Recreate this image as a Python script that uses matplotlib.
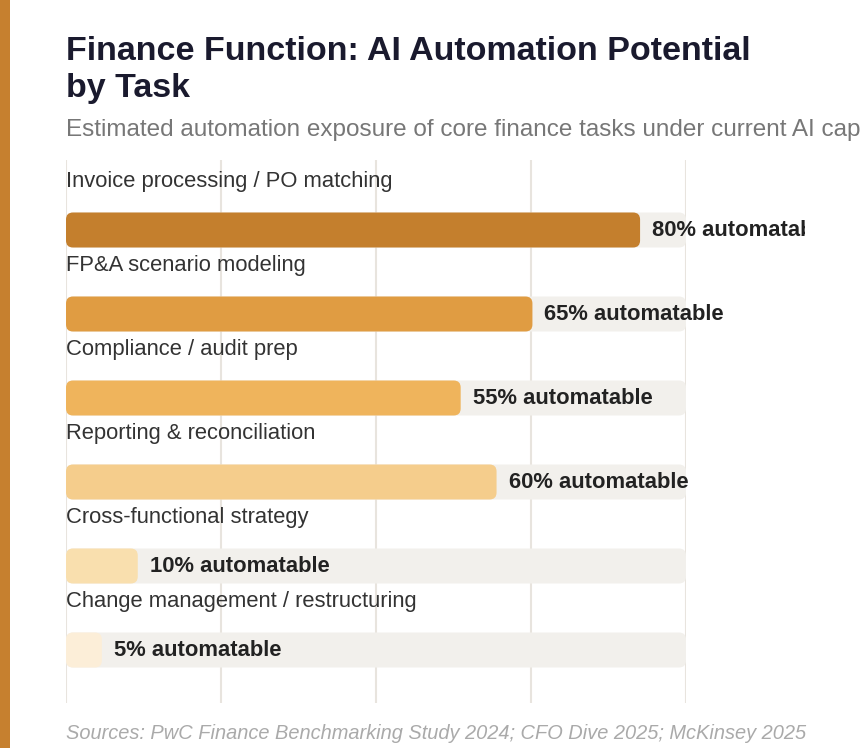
import numpy as np
import matplotlib
matplotlib.use("Agg")
import matplotlib.pyplot as plt
from matplotlib.patches import FancyBboxPatch, Rectangle
from matplotlib.transforms import Bbox, TransformedBbox

# ---- data ----
tasks = [
    "Invoice processing / PO matching",
    "FP&A scenario modeling",
    "Compliance / audit prep",
    "Reporting & reconciliation",
    "Cross-functional strategy",
    "Change management / restructuring",
]
values = [80, 65, 55, 60, 10, 5]
bar_colors = ["#C47F2D", "#E09C42", "#EFB45C", "#F5CD8C", "#F9DFAE", "#FCEED8"]
title_lines = ["Finance Function: AI Automation Potential", "by Task"]
subtitle = "Estimated automation exposure of core finance tasks under current AI capabilities"
source = "Sources: PwC Finance Benchmarking Study 2024; CFO Dive 2025; McKinsey 2025"
value_suffix = "% automatable"

W, H = 862, 748
DPI = 100
plt.rcParams['font.family'] = ['Liberation Sans', 'DejaVu Sans']
fig = plt.figure(figsize=(W / DPI, H / DPI), dpi=DPI)
fig.patch.set_facecolor("white")

def px(n):  # pixels -> points
    return n * 72 / DPI

# left accent stripe
fig.add_artist(Rectangle((0, 0), 10 / W, 1, transform=fig.transFigure,
                         facecolor="#C6802F", edgecolor="none"))

# titles
fig.text(66 / W, 1 - 60 / H, title_lines[0], fontsize=px(34), fontweight="bold",
         color="#1A1A2E", va="baseline", ha="left")
fig.text(66 / W, 1 - 97 / H, title_lines[1], fontsize=px(34), fontweight="bold",
         color="#1A1A2E", va="baseline", ha="left")
fig.text(66 / W, 1 - 136 / H, subtitle, fontsize=px(24.2), color="#777777",
         va="baseline", ha="left")
fig.text(66 / W, 1 - 739 / H, source, fontsize=px(20), color="#AAAAAA",
         style="italic", va="baseline", ha="left")

# axes
ax_left, ax_right, ax_top, ax_bottom = 66, 686, 160, 703
ax = fig.add_axes([ax_left / W, 1 - ax_bottom / H, (ax_right - ax_left) / W,
                   (ax_bottom - ax_top) / H])
ax.set_facecolor("none")
for s in ax.spines.values():
    s.set_visible(False)
ax.set_xticks([]); ax.set_yticks([])

xmax = max(values) * 1.08
row = 84.0
ax.set_xlim(0, xmax)
ax.set_ylim(len(tasks) - 1 + (ax_bottom - 650) / row, -70 / row)

for gx in np.linspace(0, xmax, 5):
    ax.axvline(gx, color="#E8E4DE", lw=1.5, zorder=0)

px_per_x = (ax_right - ax_left) / xmax
bar_h = 35 / row
r_px = 7
asp = (1 / row) / (1 / px_per_x)

clip = TransformedBbox(Bbox([[0, 0], [805 / W, 1]]), fig.transFigure)

for i, (t, v, c) in enumerate(zip(tasks, values, bar_colors)):
    track = FancyBboxPatch((0, i - bar_h / 2), xmax, bar_h,
                           boxstyle=f"round,pad=0,rounding_size={r_px / px_per_x}",
                           mutation_aspect=asp, facecolor="#F2F0EC",
                           edgecolor="none", zorder=1)
    ax.add_patch(track)
    bar = FancyBboxPatch((0, i - bar_h / 2), v, bar_h,
                         boxstyle=f"round,pad=0,rounding_size={r_px / px_per_x}",
                         mutation_aspect=asp, facecolor=c, edgecolor="none", zorder=2)
    ax.add_patch(bar)
    ax.text(0, i - 49 / row, t, fontsize=px(22), color="#333333",
            va="center", ha="left", zorder=3)
    lab = ax.annotate(f"{v}{value_suffix}", xy=(v, i), xytext=(px(12), 0),
                      textcoords="offset points", fontsize=px(22), fontweight="bold",
                      color="#222222", va="center", ha="left", zorder=3,
                      annotation_clip=False)
    lab.set_clip_box(clip)
    lab.set_clip_on(True)

fig.savefig("out.png", dpi=DPI, facecolor="white")
